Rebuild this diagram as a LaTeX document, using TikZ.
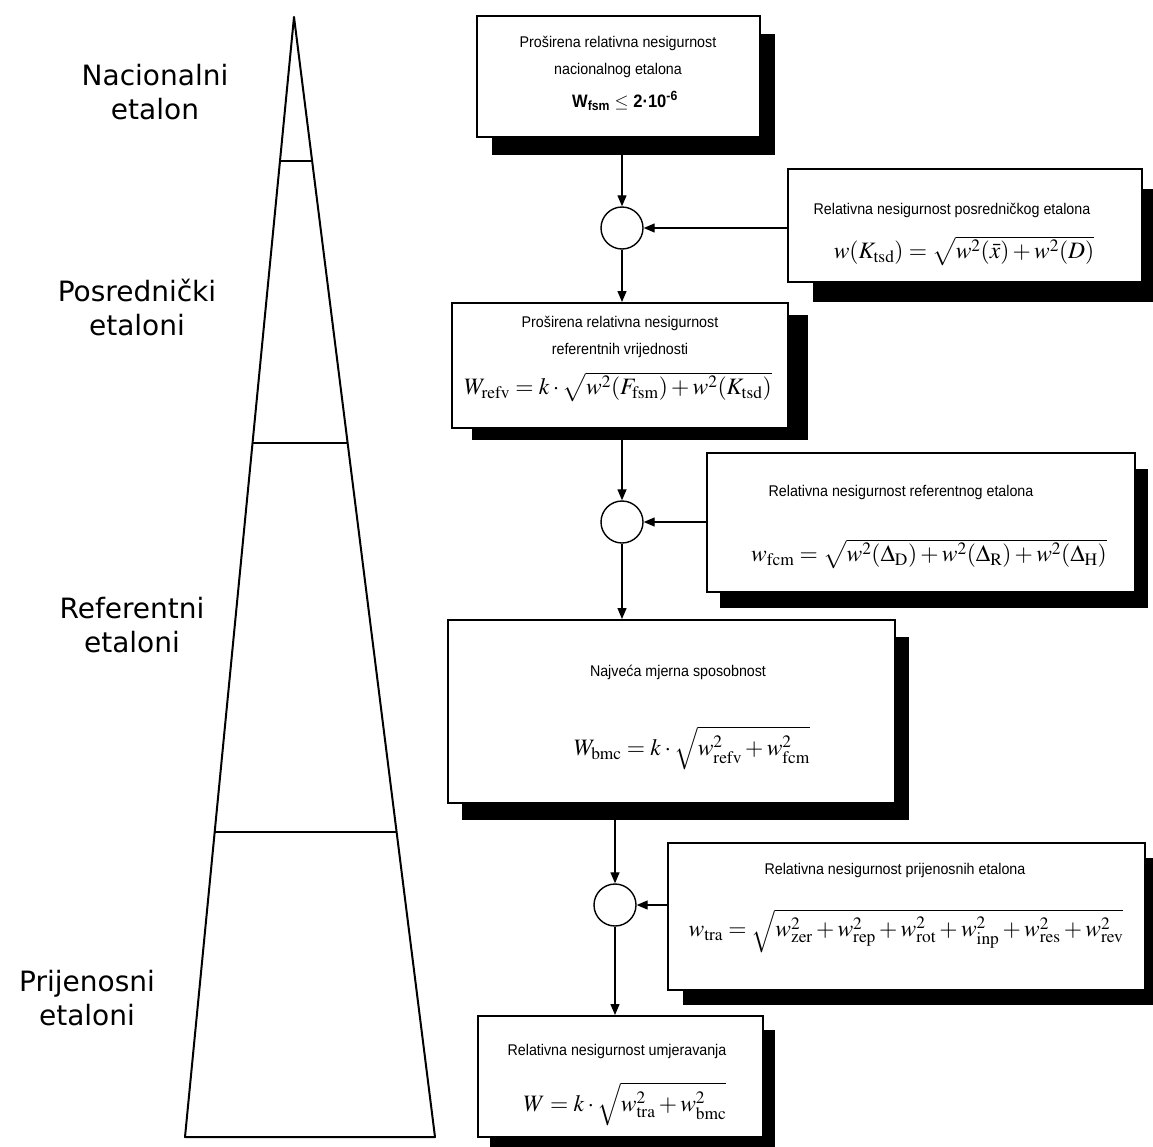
\documentclass[tikz,border=0pt]{standalone}
\usepackage{amsmath}
\usepackage{mathptmx}
\usepackage[no-math]{fontspec}
\setmainfont{DejaVu Sans}
\newfontfamily\boxfont[FakeStretch=0.92]{Liberation Sans}
\usetikzlibrary{calc}
\usetikzlibrary{arrows.meta}

\begin{document}
\begin{tikzpicture}[x=1pt,y=-1pt,
	box/.style={draw,line width=2pt,fill=white,inner sep=0pt},
	sum/.style={draw,circle,line width=1.4pt,fill=white,minimum size=42pt,inner sep=0pt},
	flow/.style={line width=1.3pt,-{Triangle[length=11pt,width=9pt]}},
	level/.style={align=center,font=\fontsize{28}{34}\selectfont},
	caption/.style={align=center,inner sep=0pt,font=\boxfont\fontsize{15.5}{26.5}\selectfont},
	formula/.style={inner sep=0pt,font=\fontsize{23.5}{27}\selectfont}]
	\useasboundingbox (0,0) rectangle (1153,1146);
	
	% pyramid of standards
	\coordinate (top) at (294,17);
	\coordinate (bl) at (185,1137);
	\coordinate (br) at (435,1137);
	\draw[line width=2pt,line join=round] (top) -- (br) -- (bl) -- cycle;
	\foreach \t in {0.1286,0.3804,0.7277}
	{
		\draw[line width=2pt] ($(top)!\t!(bl)$) -- ($(top)!\t!(br)$);
	}
	
	\node[level] (nac) at (155,92) {Nacionalni\\etalon};
	\node[level] (pos) at (137,307) {Posrednički\\etaloni};
	\node[level] (ref) at (132,625) {Referentni\\etaloni};
	\node[level] (prij) at (87,998) {Prijenosni\\etaloni};
	
	% boxes: name, left, top, right, bottom, shadow dx, shadow dy
	\newcommand\etalonBox[7]{%
		\fill (#2+#6,#3+#7) rectangle (#4+#6,#5+#7);
		\node[box,minimum width=#4-#2,minimum height=#5-#3] (#1) at ({(#2+#4)/2},{(#3+#5)/2}) {};}
	
	\etalonBox{b1}{477}{16}{760}{137}{15}{18}
	\etalonBox{b2}{788}{169}{1142}{282}{25}{20}
	\etalonBox{b3}{452}{303}{788}{428}{20}{12}
	\etalonBox{b4}{707}{453}{1135}{592}{13}{16}
	\etalonBox{b5}{448}{620}{895}{803}{14}{17}
	\etalonBox{b6}{668}{843}{1145}{990}{15}{15}
	\etalonBox{b7}{478}{1016}{763}{1137}{12}{14}
	
	\node[caption] (t1) at (618,57) {Proširena relativna nesigurnost\\nacionalnog etalona};
	\node[caption,font=\boxfont\fontsize{18}{20}\selectfont] (f1) at (625,101) {\bfseries W\textsubscript{fsm} $\le$ 2·10\textsuperscript{-6}};
	\node[caption] (t2) at (952,210) {Relativna nesigurnost posredničkog etalona};
	\node[formula] (f2) at (964,251) {$w(K_{\mathrm{tsd}})=\sqrt{w^2(\bar{x})+w^2(D)}$};
	\node[caption] (t3) at (620,337) {Proširena relativna nesigurnost\\referentnih vrijednosti};
	\node[formula] (f3) at (618,387) {$W_{\mathrm{refv}}=k\cdot\sqrt{w^2(F_{\mathrm{fsm}})+w^2(K_{\mathrm{tsd}})}$};
	\node[caption] (t4) at (901,492) {Relativna nesigurnost referentnog etalona};
	\node[formula] (f4) at (929,554) {$w_{\mathrm{fcm}}=\sqrt{w^2(\Delta_{\mathrm{D}})+w^2(\Delta_{\mathrm{R}})+w^2(\Delta_{\mathrm{H}})}$};
	\node[caption] (t5) at (678,672) {Najveća mjerna sposobnost};
	\node[formula] (f5) at (692,748) {$W_{\mathrm{bmc}}=k\cdot\sqrt{w_{\mathrm{refv}}^2+w_{\mathrm{fcm}}^2}$};
	\node[caption] (t6) at (895,870) {Relativna nesigurnost prijenosnih etalona};
	\node[formula] (f6) at (906,931) {$w_{\mathrm{tra}}=\sqrt{w_{\mathrm{zer}}^2+w_{\mathrm{rep}}^2+w_{\mathrm{rot}}^2+w_{\mathrm{inp}}^2+w_{\mathrm{res}}^2+w_{\mathrm{rev}}^2}$};
	\node[caption] (t7) at (617,1051) {Relativna nesigurnost umjeravanja};
	\node[formula] (f7) at (625,1104) {$W=k\cdot\sqrt{w_{\mathrm{tra}}^2+w_{\mathrm{bmc}}^2}$};
	
	% summing points
	\node[sum] (c1) at (622,228) {};
	\node[sum] (c2) at (622,522) {};
	\node[sum] (c3) at (615,905) {};
	
	\draw[flow] (b1.south -| c1) -- (c1);
	\draw[flow] (c1 -| b2.west) -- (c1);
	\draw[flow] (c1) -- (b3.north -| c1);
	\draw[flow] (b3.south -| c2) -- (c2);
	\draw[flow] (c2 -| b4.west) -- (c2);
	\draw[flow] (c2) -- (b5.north -| c2);
	\draw[flow] (b5.south -| c3) -- (c3);
	\draw[flow] (c3 -| b6.west) -- (c3);
	\draw[flow] (c3) -- (b7.north -| c3);
\end{tikzpicture}
\end{document}
